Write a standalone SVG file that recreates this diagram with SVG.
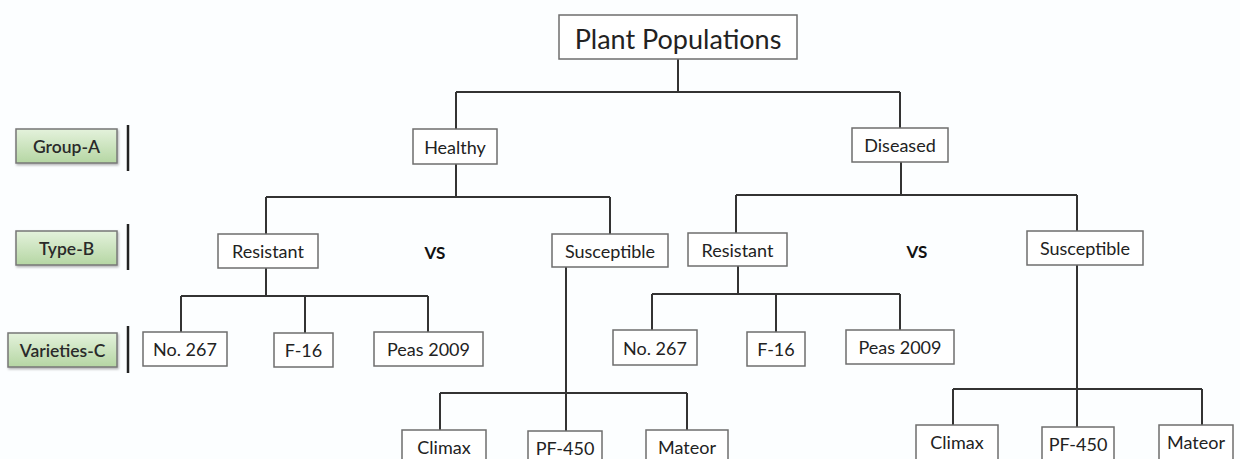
<svg xmlns="http://www.w3.org/2000/svg" width="1240" height="459" viewBox="0 0 1240 459">
<defs>
<linearGradient id="g" x1="0" y1="0" x2="0" y2="1">
<stop offset="0" stop-color="#e4f2dc"/>
<stop offset="1" stop-color="#b5d6a3"/>
</linearGradient>
<filter id="sh" x="-10%" y="-10%" width="125%" height="135%">
<feDropShadow dx="1" dy="1.5" stdDeviation="1" flood-color="#000" flood-opacity="0.3"/>
</filter>
</defs>
<style>
.b{fill:#fff;stroke:#6e6e6e;stroke-width:1.5}
.lb{fill:url(#g);stroke:#777;stroke-width:1.5;filter:url(#sh)}
.t{font-family:Lato,"Open Sans",sans-serif;font-size:18px;fill:#222;text-anchor:middle;dominant-baseline:central}
.tl{font-family:Lato,"Open Sans",sans-serif;font-size:17.5px;font-weight:600;fill:#2a2a2a;text-anchor:middle;dominant-baseline:central}
.vs{font-family:Lato,"Open Sans",sans-serif;font-size:17px;font-weight:bold;fill:#111;text-anchor:middle;dominant-baseline:central}
.c{fill:none;stroke:#333;stroke-width:2}
.bar{stroke:#222;stroke-width:2.5}
</style>
<rect width="1240" height="459" fill="#fcfeff"/>
<g id="connectors">
<path class="c" d="M678 59V92M456 92H900M456 92V129M900 92V128"/>
<path class="c" d="M456 164V197M266 197H610M266 197V234M610 197V234"/>
<path class="c" d="M901 162V195M736 195H1077M736 195V233M1077 195V231"/>
<path class="c" d="M266 268V296M181 296H428M181 296V332M305 296V333M428 296V332"/>
<path class="c" d="M738 266V294M652 294H900M652 294V330M776 294V332M900 294V330"/>
<path class="c" d="M566 267V431M440 393H687M440 393V430M687 393V430"/>
<path class="c" d="M1077 265V427M953 389H1202M953 389V425M1202 389V425"/>
</g>
<g id="legend">
<g id="label-group-a"><rect class="lb" x="16" y="129" width="101" height="34"/><text class="tl" x="66.5" y="146">Group-A</text><line class="bar" x1="128" y1="125" x2="128" y2="171"/></g>
<g id="label-type-b"><rect class="lb" x="16" y="231" width="101" height="34"/><text class="tl" x="66.5" y="248">Type-B</text><line class="bar" x1="128" y1="224" x2="128" y2="270"/></g>
<g id="label-varieties-c"><rect class="lb" x="8" y="333" width="109" height="34"/><text class="tl" x="62.5" y="350">Varieties-C</text><line class="bar" x1="128" y1="326" x2="128" y2="373"/></g>
</g>
<g id="root"><rect class="b" x="559" y="15" width="238" height="44"/><text class="t" x="678" y="38" style="font-size:27px">Plant Populations</text></g>
<g id="healthy"><rect class="b" x="413" y="129" width="84" height="35"/><text class="t" x="455" y="147">Healthy</text></g>
<g id="diseased"><rect class="b" x="852" y="128" width="96" height="34"/><text class="t" x="900" y="145">Diseased</text></g>
<g id="h-resistant"><rect class="b" x="218" y="234" width="100" height="34"/><text class="t" x="268" y="251">Resistant</text></g>
<g id="h-susceptible"><rect class="b" x="552" y="234" width="116" height="33"/><text class="t" x="610" y="251">Susceptible</text></g>
<g id="d-resistant"><rect class="b" x="688" y="233" width="99" height="33"/><text class="t" x="737.5" y="250">Resistant</text></g>
<g id="d-susceptible"><rect class="b" x="1027" y="231" width="116" height="34"/><text class="t" x="1085" y="248">Susceptible</text></g>
<g id="vs-left"><text class="vs" x="435" y="252">VS</text></g>
<g id="vs-right"><text class="vs" x="917" y="251">VS</text></g>
<g id="h-no267"><rect class="b" x="143" y="332" width="84" height="34"/><text class="t" x="185" y="349">No. 267</text></g>
<g id="h-f16"><rect class="b" x="274" y="333" width="59" height="34"/><text class="t" x="303.5" y="350">F-16</text></g>
<g id="h-peas2009"><rect class="b" x="374" y="332" width="109" height="34"/><text class="t" x="428.5" y="349">Peas 2009</text></g>
<g id="d-no267"><rect class="b" x="613" y="330" width="84" height="35"/><text class="t" x="655" y="347.5">No. 267</text></g>
<g id="d-f16"><rect class="b" x="747" y="332" width="58" height="34"/><text class="t" x="776" y="349">F-16</text></g>
<g id="d-peas2009"><rect class="b" x="846" y="330" width="108" height="34"/><text class="t" x="900" y="347">Peas 2009</text></g>
<g id="h-climax"><rect class="b" x="402" y="430" width="84" height="36"/><text class="t" x="444" y="447">Climax</text></g>
<g id="h-pf450"><rect class="b" x="528" y="431" width="74" height="36"/><text class="t" x="565" y="448">PF-450</text></g>
<g id="h-mateor"><rect class="b" x="646" y="430" width="82" height="36"/><text class="t" x="687" y="447">Mateor</text></g>
<g id="d-climax"><rect class="b" x="916" y="425" width="82" height="36"/><text class="t" x="957" y="442">Climax</text></g>
<g id="d-pf450"><rect class="b" x="1042" y="427" width="72" height="36"/><text class="t" x="1078" y="444">PF-450</text></g>
<g id="d-mateor"><rect class="b" x="1159" y="425" width="74" height="36"/><text class="t" x="1196" y="442">Mateor</text></g>
</svg>
